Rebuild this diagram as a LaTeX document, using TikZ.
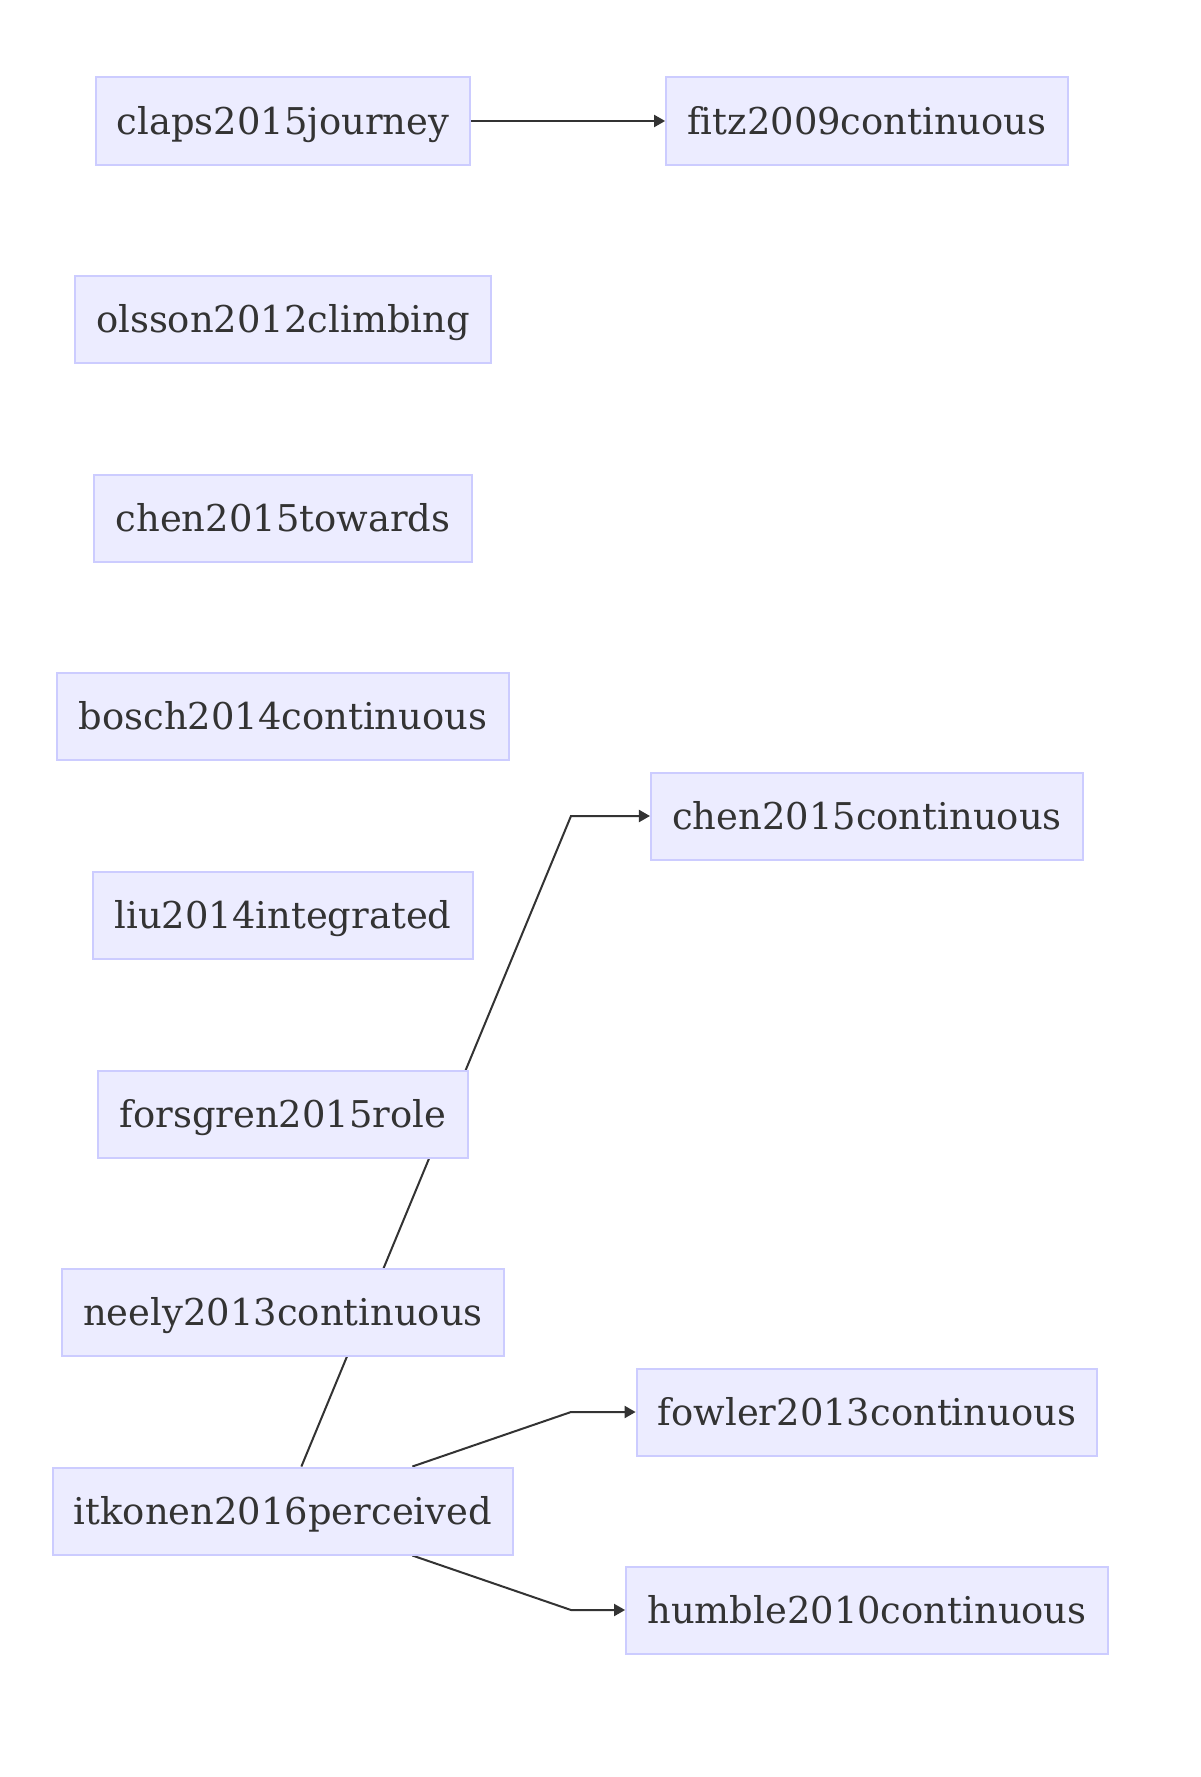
\documentclass[tikz,border=0pt]{standalone}
\usepackage{fontspec}
\setmainfont{DejaVu Serif}[Ligatures=NoCommon]
\usetikzlibrary{arrows.meta, positioning, backgrounds}
\definecolor{boxfill}{HTML}{ECECFF}
\definecolor{boxline}{HTML}{CCCCFF}
\definecolor{inkgrey}{HTML}{333333}
\tikzset{
	paper/.style = {
		draw=boxline, fill=boxfill, line width=1pt,
		text=inkgrey, minimum height=43.5pt, inner xsep=10.6pt,
		text height=13pt, text depth=0pt,
		font=\fontsize{18.45}{22}\selectfont
	},
	cites/.style = {
		draw=inkgrey, line width=1pt,
		-{Triangle[length=5.5pt, width=6pt]}
	}
}

\begin{document}
\begin{tikzpicture}[x=0.5pt, y=-0.5pt]
	\useasboundingbox (0,0) rectangle (1200,1777);
	
	\pgfmathsetmacro{\xLeft}{283}
	\pgfmathsetmacro{\xRight}{867}
	\pgfmathsetmacro{\xBend}{571}
	
	% left column
	\node [paper] (claps) at (\xLeft,121) {claps2015journey};
	\node [paper] (olsson) at (\xLeft,319) {olsson2012climbing};
	\node [paper] (chenTow) at (\xLeft,518) {chen2015towards};
	\node [paper] (bosch) at (\xLeft,716) {bosch2014continuous};
	\node [paper] (liu) at (\xLeft,915) {liu2014integrated};
	\node [paper] (forsgren) at (\xLeft,1114) {forsgren2015role};
	\node [paper] (neely) at (\xLeft,1312) {neely2013continuous};
	\node [paper] (itkonen) at (\xLeft,1511) {itkonen2016perceived};
	
	% right column
	\node [paper] (fitz) at (\xRight,121) {fitz2009continuous};
	\node [paper] (chenCont) at (\xRight,816) {chen2015continuous};
	\node [paper] (fowler) at (\xRight,1412) {fowler2013continuous};
	\node [paper] (humble) at (\xRight,1610) {humble2010continuous};
	
	\coordinate (bendChen) at (\xBend,816);
	\coordinate (bendFowler) at (\xBend,1412);
	\coordinate (bendHumble) at (\xBend,1610);
	
	\begin{pgfonlayer}{background}
		\draw [cites] (claps) -- (fitz);
		\draw [cites] (itkonen) -- (bendChen) -- (chenCont.west);
		\draw [cites] (itkonen) -- (bendFowler) -- (fowler.west);
		\draw [cites] (itkonen) -- (bendHumble) -- (humble.west);
	\end{pgfonlayer}
	
\end{tikzpicture}
\end{document}
